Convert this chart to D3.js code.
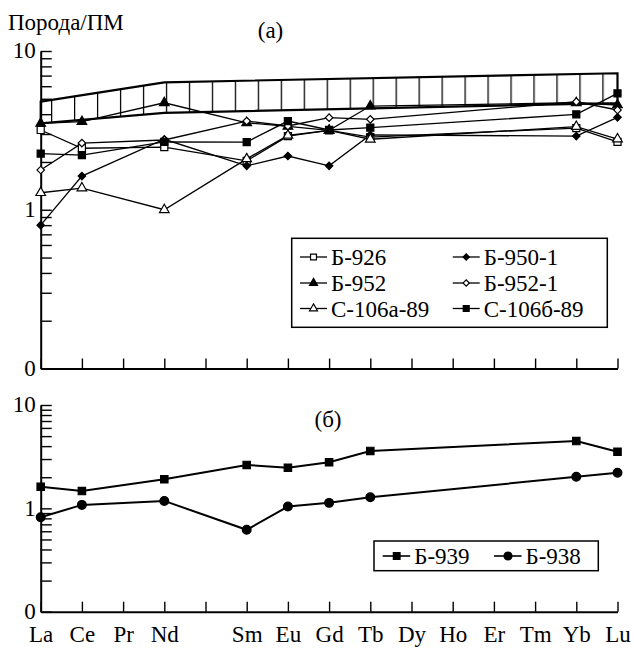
<!DOCTYPE html>
<html>
<head>
<meta charset="utf-8">
<script src="https://cdn.jsdelivr.net/npm/d3@7"></script>
<style>
  body { margin: 0; background: #fff; }
  svg text { font-family: "Liberation Serif", "DejaVu Serif", "Times New Roman", serif; font-size: 23px; fill: #000; }
</style>
</head>
<body>
<svg id="chart" width="634" height="648"></svg>
<script>
// REE along x (Pm kept as an empty slot)
const elements = ["La","Ce","Pr","Nd","Pm","Sm","Eu","Gd","Tb","Dy","Ho","Er","Tm","Yb","Lu"]
const elementLabels = ["La","Ce","Pr","Nd","","Sm","Eu","Gd","Tb","Dy","Ho","Er","Tm","Yb","Lu"]
const topCats = ["La","Ce","Nd","Sm","Eu","Gd","Tb","Yb","Lu"]

// panel (a)
const b926   = [3.18, 2.44, 2.48, 2.03, 2.91, 3.16, 2.87, 3.27, 2.68]
const b950_1 = [0.80, 1.63, 2.78, 1.89, 2.18, 1.89, 2.96, 2.91, 3.82]
const b952   = [3.50, 3.59, 4.72, 3.53, 3.35, 3.16, 4.50, 4.72, 4.57]
const b952_1 = [1.78, 2.63, 2.75, 3.62, 3.37, 3.80, 3.71, 4.79, 4.25]
const c106a  = [1.28, 1.37, 1.00, 2.09, 2.94, 3.16, 2.78, 3.34, 2.79]
const c106b  = [2.26, 2.21, 2.68, 2.67, 3.62, 3.18, 3.29, 3.99, 5.41]

// hatched field
const bandCats = ["La","Nd","Lu"]
const bandTop = [4.8, 6.35, 7.24]
const bandBottom = [3.5, 4.08, 4.7]

// panel (б)
const b939 = [1.62, 1.47, 1.91, 2.63, 2.47, 2.79, 3.59, 4.48, 3.53]
const b938 = [0.82, 1.08, 1.18, 0.62, 1.04, 1.13, 1.28, 2.02, 2.21]

const yLabels = {"10": "10", "1": "1", "0.1": "0"}

const svg = d3.select("#chart")

const x = d3.scalePoint().domain(elements).range([40.7, 617.5])
const yTop = d3.scaleLog().domain([0.1, 10]).range([368.5, 51])
const yBot = d3.scaleLog().domain([0.1, 10]).range([611.7, 405])

const sq = d3.symbol().type(d3.symbolSquare)
const tri = d3.symbol().type(d3.symbolTriangle)
const circ = d3.symbol().type(d3.symbolCircle)

const topSeries = [
  {name: "Б-926", values: b926, shape: "square", fill: "#fff"},
  {name: "Б-950-1", values: b950_1, shape: "diamond", fill: "#000"},
  {name: "Б-952", values: b952, shape: "triangle", fill: "#000"},
  {name: "Б-952-1", values: b952_1, shape: "diamond", fill: "#fff"},
  {name: "С-106а-89", values: c106a, shape: "triangle", fill: "#fff"},
  {name: "С-106б-89", values: c106b, shape: "square", fill: "#000"}
]
const botSeries = [
  {name: "Б-939", values: b939, shape: "square", fill: "#000"},
  {name: "Б-938", values: b938, shape: "circle", fill: "#000"}
]

const drawMarker = (g, shape, fill, cx, cy, scale) => {
  let p
  if (shape == "square") p = g.append("path").attr("d", sq.size(50 * scale)())
  else if (shape == "triangle") p = g.append("path").attr("d", tri.size(40 * scale)())
  else if (shape == "circle") p = g.append("path").attr("d", circ.size(55 * scale)())
  else p = g.append("path").attr("d", sq.size(28 * scale)())
  let rot = shape == "diamond" ? " rotate(45)" : ""
  p.attr("transform", `translate(${cx},${cy})${rot}`)
    .attr("fill", fill).attr("stroke", "#000").attr("stroke-width", 1.2)
}

const drawAxes = (y, showLabels) => {
  let ax = d3.axisBottom(x).tickSizeInner(-10).tickSizeOuter(0).tickPadding(14)
    .tickFormat((d, i) => showLabels ? elementLabels[i] : "")
  let gx = svg.append("g").attr("transform", `translate(0,${y.range()[0]})`).call(ax)
  let ay = d3.axisLeft(y).tickSizeInner(-11).tickSizeOuter(0).tickPadding(5)
    .tickFormat(d => yLabels[String(+d.toPrecision(3))] || "")
  let gy = svg.append("g").attr("transform", `translate(${x.range()[0]},0)`).call(ay)
  for (let g of [gx, gy]) {
    g.attr("font-family", null).attr("font-size", null)
    g.select(".domain").attr("stroke-width", 2)
    g.selectAll(".tick line").attr("stroke-width", 1.4)
  }
  gy.selectAll(".tick text").attr("dy", "0.3em")
}

//BEGIN: PANEL A
drawAxes(yTop, false)

const defs = svg.append("defs")
const pat = defs.append("pattern").attr("id", "hatch").attr("patternUnits", "userSpaceOnUse")
  .attr("x", 74).attr("y", 0).attr("width", 22.97).attr("height", 648)
pat.append("line").attr("x1", 0.6).attr("x2", 0.6).attr("y1", 0).attr("y2", 648)
  .attr("stroke", "#000").attr("stroke-width", 1.3)

const band = d3.area()
  .x((d, i) => x(bandCats[i]))
  .y0((d, i) => yTop(bandBottom[i]))
  .y1((d, i) => yTop(bandTop[i]))
svg.append("path").attr("d", band(bandCats))
  .attr("fill", "url(#hatch)").attr("stroke", "#000").attr("stroke-width", 2.2)

const line = (y) => d3.line().x((d, i) => x(topCats[i])).y(d => y(d))

topSeries.forEach(s => {
  svg.append("path").attr("d", line(yTop)(s.values))
    .attr("fill", "none").attr("stroke", "#000").attr("stroke-width", 1.3)
})
topSeries.forEach(s => {
  let g = svg.append("g")
  s.values.forEach((v, i) => drawMarker(g, s.shape, s.fill, x(topCats[i]), yTop(v), 1))
})

svg.append("text").attr("x", 8).attr("y", 30).text("Порода/ПМ")
svg.append("text").attr("x", 270.5).attr("y", 38).attr("text-anchor", "middle").text("(а)")

// legend (a)
svg.append("rect").attr("x", 291.7).attr("y", 238.3).attr("width", 315.6).attr("height", 89)
  .attr("fill", "#fff").attr("stroke", "#000").attr("stroke-width", 1.5)
const legRows = [257, 283, 308.5]
const legCols = [300, 452.7]
topSeries.forEach((s, i) => {
  let lx = legCols[i % 2], ly = legRows[Math.floor(i / 2)]
  svg.append("line").attr("x1", lx).attr("x2", lx + 27).attr("y1", ly).attr("y2", ly)
    .attr("stroke", "#000").attr("stroke-width", 1.3)
  drawMarker(svg.append("g"), s.shape, s.fill, lx + 13.5, ly, 0.7)
  svg.append("text").attr("x", lx + 31).attr("y", ly).attr("dy", "0.36em").text(s.name)
})
//END: PANEL A

//BEGIN: PANEL B
drawAxes(yBot, true)

botSeries.forEach(s => {
  svg.append("path").attr("d", line(yBot)(s.values))
    .attr("fill", "none").attr("stroke", "#000").attr("stroke-width", 2)
  let g = svg.append("g")
  s.values.forEach((v, i) => drawMarker(g, s.shape, s.fill, x(topCats[i]), yBot(v), 1.1))
})

svg.append("text").attr("x", 328).attr("y", 427).attr("text-anchor", "middle").text("(б)")

svg.append("rect").attr("x", 374).attr("y", 541).attr("width", 224.3).attr("height", 29.7)
  .attr("fill", "#fff").attr("stroke", "#000").attr("stroke-width", 1.5)
const leg2Cols = [382.7, 494]
botSeries.forEach((s, i) => {
  let lx = leg2Cols[i], ly = 556
  svg.append("line").attr("x1", lx).attr("x2", lx + 27.5).attr("y1", ly).attr("y2", ly)
    .attr("stroke", "#000").attr("stroke-width", 1.6)
  drawMarker(svg.append("g"), s.shape, s.fill, lx + 14, ly, 0.9)
  svg.append("text").attr("x", lx + 31.5).attr("y", ly).attr("dy", "0.36em").text(s.name)
})
//END: PANEL B
</script>
</body>
</html>
